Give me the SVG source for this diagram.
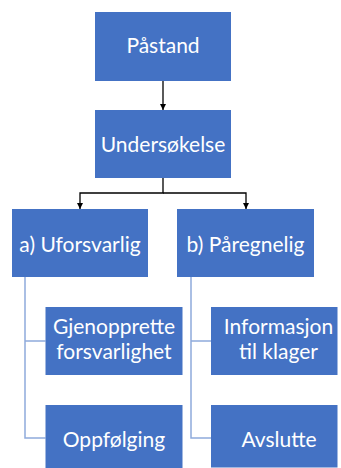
<svg xmlns="http://www.w3.org/2000/svg" width="341" height="468" viewBox="0 0 341 468">
<defs>
<marker id="ah" viewBox="0 0 10 10" refX="10" refY="5" markerWidth="6" markerHeight="6" markerUnits="userSpaceOnUse" orient="auto">
<path d="M0,0 L10,5 L0,10 z" fill="#000"/>
</marker>
</defs>
<style>
.box{fill:#4472C4;}
.t{font-family:Lato,"Open Sans","Liberation Sans",sans-serif;font-size:21px;fill:#fff;text-anchor:middle;}
.c{fill:none;stroke:#000;stroke-width:1.3;}
.s{fill:none;stroke:#8FAADC;stroke-width:1.5;}
</style>
<rect width="341" height="468" fill="#fff"/>
<g id="connectors">
<path class="c" d="M163,81 V110" marker-end="url(#ah)"/>
<path class="c" d="M163,178 V193 H80 V209" marker-end="url(#ah)"/>
<path class="c" d="M163,193 H246 V209" marker-end="url(#ah)"/>
<path class="s" d="M25,277 V438 H45.5 M25,341 H45.5"/>
<path class="s" d="M191,277 V438 H211 M191,341 H211"/>
</g>
<g id="n1"><rect class="box" x="95" y="12" width="136" height="69"/><text class="t" x="163" y="53">Påstand</text></g>
<g id="n2"><rect class="box" x="95" y="110" width="136" height="68"/><text class="t" x="163" y="152">Undersøkelse</text></g>
<g id="n3"><rect class="box" x="12" y="209" width="136" height="68"/><text class="t" x="80" y="252">a) Uforsvarlig</text></g>
<g id="n4"><rect class="box" x="177" y="209" width="137" height="68"/><text class="t" x="245.5" y="252">b) Påregnelig</text></g>
<g id="n5"><rect class="box" x="45.5" y="307" width="137" height="68"/><text class="t" x="114" y="334">Gjenopprette</text><text class="t" x="114" y="359">forsvarlighet</text></g>
<g id="n6"><rect class="box" x="211" y="307" width="126.5" height="68"/><text class="t" x="278.5" y="334">Informasjon</text><text class="t" x="278.5" y="359">til klager</text></g>
<g id="n7"><rect class="box" x="45.5" y="405" width="137" height="63"/><text class="t" x="114" y="447">Oppfølging</text></g>
<g id="n8"><rect class="box" x="211" y="405" width="126.5" height="62.5"/><text class="t" x="279" y="447">Avslutte</text></g>
</svg>
